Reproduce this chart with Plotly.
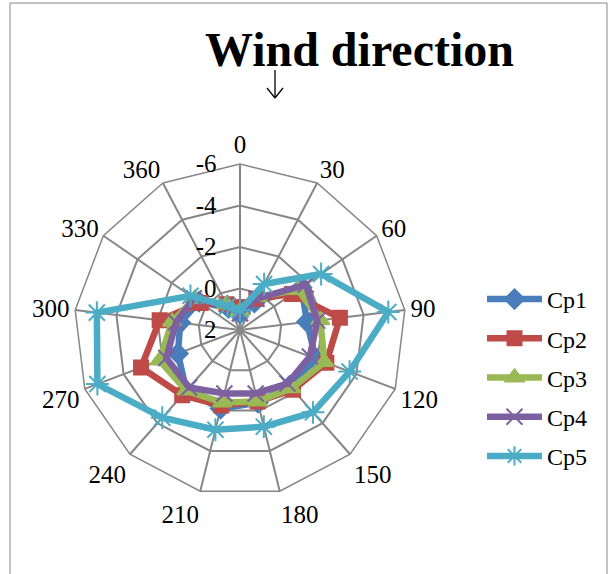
import plotly.graph_objects as go

W, H = 610, 574

directions = ["0", "30", "60", "90", "120", "150", "180", "210", "240", "270", "300", "330", "360"]
cp1 = [1.2, 0.5, -1.6, -1.25, -1.9, -1.6, -1.6, -1.9, -1.9, -1.2, -0.9, -0.4, 0.8]
cp2 = [0.9, 0.3, -1.05, -2.85, -2.45, -1.85, -1.55, -1.75, -2.2, -3.1, -1.9, -0.3, 0.6]
cp3 = [1.1, 0.2, -1.4, -1.9, -2.35, -1.75, -1.55, -1.6, -1.9, -2.15, -1.3, -0.65, 0.6]
cp4 = [1.2, 0.3, -1.85, -1.75, -1.6, -1.45, -1.15, -1.15, -1.7, -1.8, -1.1, -0.7, 0.7]
cp5 = [1.05, -0.5, -2.75, -5.2, -3.65, -3.3, -2.8, -2.95, -3.65, -5.35, -4.95, -0.9, 0.7]
radial_ticks = [-6, -4, -2, 0, 2]
radial_ticktext = ["-6", "-4", "-2", "0", "2"]

series = [
    ("Cp1", cp1, "#4A7EBB", "diamond", 15),
    ("Cp2", cp2, "#BE4B48", "square", 14),
    ("Cp3", cp3, "#98B954", "triangle-up", 16),
    ("Cp4", cp4, "#7D60A0", "x-thin-open", 16),
    ("Cp5", cp5, "#4BACC6", "asterisk-open", 19),
]

def px(x):
    return x / W

def py(y):
    return 1 - y / H

fig = go.Figure()
# the grid subplot (polygon grid) only needs an empty trace to be drawn
fig.add_trace(go.Scatterpolar(r=[], theta=[], subplot="polar", showlegend=False, hoverinfo="skip"))
for name, vals, col, sym, sz in series:
    fig.add_trace(go.Scatterpolar(
        r=list(vals) + [vals[0]],
        theta=directions + [directions[0]],
        subplot="polar2",
        mode="lines+markers",
        name=name,
        legendgroup=name,
        cliponaxis=False,
        line=dict(color=col, width=6.5),
        marker=dict(symbol=sym, size=sz, color=col, line=dict(color=col, width=2)),
    ))

cx, cy, R = 240, 330, 166
domain = dict(x=[px(cx - R), px(cx + R)], y=[py(cy + R), py(cy - R)])
ang_common = dict(
    type="category",
    categoryorder="array",
    categoryarray=directions,
    rotation=90,
    direction="clockwise",
)
fig.update_layout(
    width=W, height=H,
    margin=dict(l=0, r=0, t=0, b=0),
    paper_bgcolor="white",
    font=dict(family="Liberation Serif", color="black", size=25),
    polar=dict(
        domain=domain,
        bgcolor="white",
        gridshape="linear",
        angularaxis=dict(
            **ang_common,
            showgrid=True,
            gridcolor="#868686",
            gridwidth=1.5,
            linecolor="#868686",
            linewidth=1.5,
            showline=True,
            ticks="",
            tickfont=dict(family="Liberation Serif", size=25, color="black"),
        ),
        radialaxis=dict(
            range=[2, -6],
            tickvals=radial_ticks,
            ticktext=radial_ticktext,
            angle=90,
            side="counterclockwise",
            showgrid=True,
            gridcolor="#868686",
            gridwidth=1.5,
            showline=True,
            linecolor="#868686",
            linewidth=1.5,
            ticks="outside",
            ticklen=14,
            tickcolor="rgba(0,0,0,0)",
            tickangle=90,
            tickfont=dict(family="Liberation Serif", size=25, color="black"),
        ),
    ),
    polar2=dict(
        domain=domain,
        bgcolor="rgba(0,0,0,0)",
        gridshape="circular",
        angularaxis=dict(**ang_common, showgrid=False, showline=False, ticks="", showticklabels=False),
        radialaxis=dict(range=[2, -6], angle=90, showgrid=False, showline=False, ticks="",
                        showticklabels=False),
    ),
    showlegend=True,
    legend=dict(
        x=px(482), y=py(277), xanchor="left", yanchor="top",
        font=dict(family="Liberation Serif", size=24, color="black"),
        itemwidth=55,
        tracegroupgap=5,
        bgcolor="rgba(0,0,0,0)",
    ),
    annotations=[
        dict(text="<b>Wind direction</b>", x=px(359), y=py(50), xref="paper", yref="paper",
             xanchor="center", yanchor="middle",
             showarrow=False, font=dict(family="Liberation Serif", size=48, color="black")),
    ],
    shapes=[
        dict(type="rect", xref="paper", yref="paper", x0=px(10), y0=py(590), x1=px(607), y1=py(3),
             line=dict(color="#868686", width=1)),
        dict(type="line", xref="paper", yref="paper", x0=px(275), y0=py(70), x1=px(275), y1=py(98),
             line=dict(color="black", width=1.3)),
        dict(type="line", xref="paper", yref="paper", x0=px(267), y0=py(88), x1=px(275), y1=py(98),
             line=dict(color="black", width=1.3)),
        dict(type="line", xref="paper", yref="paper", x0=px(283), y0=py(88), x1=px(275), y1=py(98),
             line=dict(color="black", width=1.3)),
    ],
)

fig.write_html("out.html")
